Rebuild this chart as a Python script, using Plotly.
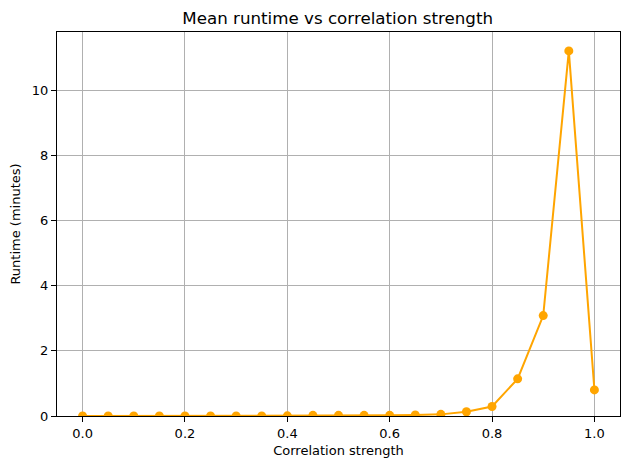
import plotly.graph_objects as go

correlation = [0.0, 0.05, 0.1, 0.15, 0.2, 0.25, 0.3, 0.35, 0.4, 0.45, 0.5,
               0.55, 0.6, 0.65, 0.7, 0.75, 0.8, 0.85, 0.9, 0.95, 1.0]
runtime = [0.0, 0.0, 0.0, 0.0, 0.0, 0.0, 0.0, 0.0, 0.005, 0.02, 0.02,
           0.02, 0.02, 0.03, 0.05, 0.13, 0.29, 1.14, 3.08, 11.2, 0.8]

fig = go.Figure()
fig.add_trace(go.Scatter(
    x=correlation, y=runtime, mode="lines+markers",
    line=dict(color="#FFA500", width=2),
    marker=dict(color="#FFA500", size=9),
))

axis_common = dict(
    showline=True, linecolor="black", linewidth=1, mirror=True,
    ticks="outside", ticklen=5, tickcolor="black",
    showgrid=True, gridcolor="#b0b0b0", gridwidth=1,
    zeroline=False,
    tickfont=dict(family="DejaVu Sans", size=13, color="black"),
)

fig.update_layout(
    width=630, height=470,
    paper_bgcolor="white", plot_bgcolor="white",
    margin=dict(l=57, r=10, t=32, b=54),
    showlegend=False,
    title=dict(text="Mean runtime vs correlation strength", x=0.536, xanchor="center",
               y=0.962, yanchor="middle",
               font=dict(family="DejaVu Sans", size=16.7, color="black")),
    xaxis=dict(axis_common, range=[-0.05, 1.05], tickvals=[0, 0.2, 0.4, 0.6, 0.8, 1.0],
               ticktext=["0.0", "0.2", "0.4", "0.6", "0.8", "1.0"],
               title=dict(text="Correlation strength", standoff=6,
                          font=dict(family="DejaVu Sans", size=13, color="black"))),
    yaxis=dict(axis_common, range=[0, 11.78], tickvals=[0, 2, 4, 6, 8, 10],
               title=dict(text="Runtime (minutes)", standoff=8,
                          font=dict(family="DejaVu Sans", size=13, color="black"))),
)

fig.write_html("out.html", config={"displayModeBar": False},
               post_script="document.body.style.margin='0px';")
